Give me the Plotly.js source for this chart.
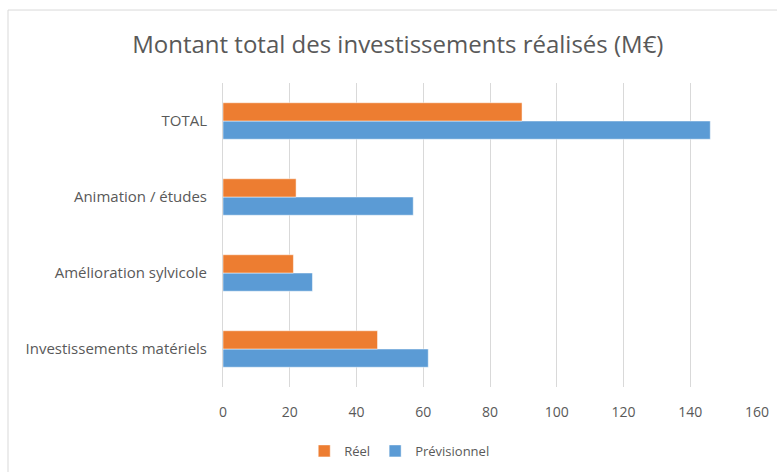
<!DOCTYPE html>
<html>
<head>
<meta charset="utf-8">
<script src="https://cdn.plot.ly/plotly-3.0.1.min.js"></script>
<style>html,body{margin:0;padding:0;background:#fff;}#chart{width:777px;height:472px;}</style>
</head>
<body>
<div id="chart"></div>
<script>
const categories = ["Investissements matériels", "Amélioration sylvicole", "Animation / études", "TOTAL"];
const reel = [46.3, 21.1, 21.9, 89.6];
const previsionnel = [61.5, 26.8, 57.0, 146.0];
const xTicks = [0, 20, 40, 60, 80, 100, 120, 140, 160];

const font = "'Open Sans', 'Liberation Sans', sans-serif";
const traces = [
  {type: 'bar', orientation: 'h', name: 'Prévisionnel', y: categories, x: previsionnel,
   marker: {color: '#5B9BD5', line: {color: '#ffffff', width: 0.5}}},
  {type: 'bar', orientation: 'h', name: 'Réel', y: categories, x: reel,
   marker: {color: '#ED7D31', line: {color: '#ffffff', width: 0.5}}}
];
const layout = {
  width: 777, height: 472,
  margin: {l: 223, r: 20, t: 83, b: 85, autoexpand: false},
  paper_bgcolor: '#ffffff', plot_bgcolor: '#ffffff',
  font: {family: font, color: '#595959', size: 13},
  title: {text: 'Montant total des investissements réalisés (M€)', font: {family: font, size: 24, color: '#595959'},
          x: 0.512, xanchor: 'center', y: 0.905, yanchor: 'middle'},
  barmode: 'group', bargap: 0.52, bargroupgap: 0,
  xaxis: {range: [0, 160], tickvals: xTicks, ticktext: xTicks.map(String), showgrid: true, gridcolor: '#d9d9d9', gridwidth: 1,
          zeroline: false, showline: false, ticks: '', ticklabelstandoff: 15, tickfont: {size: 14, color: '#595959'}, fixedrange: true},
  yaxis: {type: 'category', categoryorder: 'array', categoryarray: categories, showgrid: false, zeroline: false,
          showline: true, linecolor: '#d9d9d9', linewidth: 1, ticks: '', ticklabelstandoff: 12, tickfont: {size: 15, color: '#595959'}},
  showlegend: true,
  legend: {orientation: 'h', traceorder: 'reversed', x: 0.33, xanchor: 'center', y: -0.161, yanchor: 'top',
           font: {size: 13, color: '#595959'}, itemwidth: 30},
  shapes: [
    {type: 'rect', xref: 'paper', yref: 'paper', x0: -0.4026, x1: 1.1, y0: -0.35, y1: 1.24,
     line: {color: '#d9d9d9', width: 1}, fillcolor: 'rgba(0,0,0,0)', layer: 'below'}
  ]
};
Plotly.newPlot('chart', traces, layout, {displayModeBar: false, staticPlot: true});
</script>
</body>
</html>
